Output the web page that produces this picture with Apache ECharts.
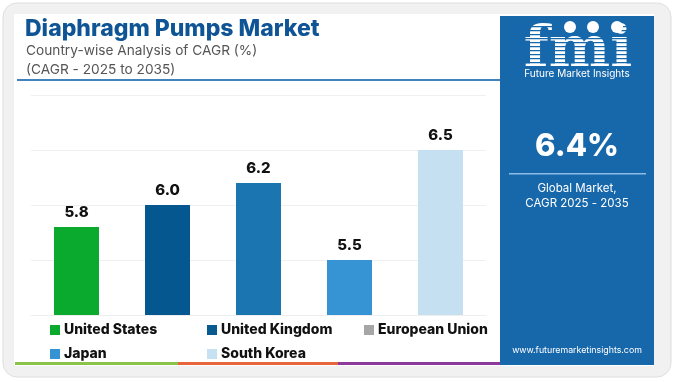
<!DOCTYPE html>
<html>
<head>
<meta charset="utf-8">
<script src="https://cdn.jsdelivr.net/npm/echarts@6/dist/echarts.min.js"></script>
<style>
html,body{margin:0;padding:0;background:#fff;}
#c{width:676px;height:382px;}
</style>
</head>
<body>
<div id="c"></div>
<script>
const categories = ['United States', 'United Kingdom', 'European Union', 'Japan', 'South Korea'];
const values = [5.8, 6.0, 6.2, 5.5, 6.5];
const barColors = ['#0aaa2e', '#04588f', '#1b75b0', '#3693d4', '#c4e0f1'];
const legendColors = ['#0aaa2e', '#085a8f', '#a6a6a6', '#3592d3', '#c5e1f2'];
const yMin = 5, yMax = 7, yStep = 0.5;
const title = 'Diaphragm Pumps Market';
const subtitle1 = 'Country-wise Analysis of CAGR (%)';
const subtitle2 = '(CAGR - 2025 to 2035)';
const globalCagr = '6.4%';
const globalLabel = 'Global Market,\nCAGR 2025 - 2035';
const website = 'www.futuremarketinsights.com';

const FONT = 'Inter, "Open Sans", sans-serif';
const chart = echarts.init(document.getElementById('c'), null, {renderer: 'canvas'});

const series = categories.map((name, i) => ({
  name: name,
  type: 'bar',
  barWidth: 45,
  barGap: '-100%',
  itemStyle: {color: barColors[i]},
  label: {
    show: true, position: 'top', distance: 7,
    fontFamily: FONT, fontWeight: 800, fontSize: 15, color: '#111',
    formatter: p => p.value.toFixed(1)
  },
  data: values.map((v, j) => j === i ? v : '-')
}));

// legend layout: 3 columns, 2 rows
const legendCols = [45, 202, 359];
const legendRows = [318, 342];
const legends = categories.map((name, i) => ({
  left: legendCols[i % 3], top: legendRows[Math.floor(i / 3)],
  itemWidth: 10, itemHeight: 10, icon: 'rect',
  textStyle: {fontFamily: FONT, fontWeight: 800, fontSize: 14, color: '#111', padding: [0, 0, 0, -1]},
  data: [{name: name, itemStyle: {color: legendColors[i]}}]
}));

// stripes for logo
const stripes = [];
for (let y = 26; y <= 68; y += 4) {
  stripes.push({type: 'rect', z: 5, shape: {x: 516, y: y, width: 124, height: 1.3}, style: {fill: '#1767ab'}});
}

const option = {
  animation: false,
  grid: {left: 31, right: 190, top: 95, bottom: 67, containLabel: false},
  xAxis: {
    type: 'category', data: categories,
    axisLine: {show: true, lineStyle: {color: '#eeeeee'}},
    axisTick: {show: false}, axisLabel: {show: false}
  },
  yAxis: {
    type: 'value', min: yMin, max: yMax, interval: yStep,
    axisLine: {show: false}, axisTick: {show: false}, axisLabel: {show: false},
    splitLine: {lineStyle: {color: '#f0f0f0', width: 1}}
  },
  legend: legends,
  series: series,
  graphic: [
    {type: 'rect', z: -20, shape: {x: 3, y: 3, width: 668, height: 374, r: 14}, style: {fill: '#f1f1f1', stroke: '#dedede', lineWidth: 1}},
    {type: 'rect', z: -19, shape: {x: 14, y: 14, width: 640, height: 352}, style: {fill: '#ffffff'}},
    {type: 'rect', z: -18, shape: {x: 500, y: 16, width: 154, height: 349}, style: {fill: '#1767ab'}},
    {type: 'text', z: 3, x: 25, y: 29, style: {text: title, fontFamily: FONT, fontWeight: 800, fontSize: 23, fill: '#0f5596', textVerticalAlign: 'middle'}},
    {type: 'text', z: 3, x: 26, y: 51, style: {text: subtitle1, fontFamily: FONT, fontSize: 13.7, fill: '#555555', textVerticalAlign: 'middle'}},
    {type: 'text', z: 3, x: 26, y: 70, style: {text: subtitle2, fontFamily: FONT, fontSize: 13.7, fill: '#555555', textVerticalAlign: 'middle'}},
    {type: 'rect', z: 3, shape: {x: 17, y: 79, width: 483, height: 2}, style: {fill: '#3f84bf'}},
    {type: 'rect', z: 3, shape: {x: 15, y: 362, width: 163, height: 3}, style: {fill: '#8bc34a'}},
    {type: 'rect', z: 3, shape: {x: 178, y: 362, width: 160, height: 3}, style: {fill: '#e8643c'}},
    {type: 'rect', z: 3, shape: {x: 338, y: 362, width: 162, height: 3}, style: {fill: '#8e3a9c'}},
    // logo
    {type: 'text', z: 4, x: 578, y: 81, style: {text: 'fmi', fontFamily: '"DejaVu Serif", serif', fontWeight: 'bold', fontSize: 58, fill: '#ffffff', textAlign: 'center', textVerticalAlign: 'bottom'}},
    ...stripes,
    {type: 'circle', z: 6, shape: {cx: 570, cy: 27, r: 6}, style: {fill: '#ffffff'}},
    {type: 'circle', z: 6, shape: {cx: 593, cy: 27, r: 6}, style: {fill: '#ffffff'}},
    {type: 'circle', z: 6, shape: {cx: 617, cy: 27, r: 6}, style: {fill: '#ffffff'}},
    {type: 'text', z: 6, x: 577, y: 74, style: {text: 'Future Market Insights', fontFamily: FONT, fontSize: 10, fill: '#ffffff', textAlign: 'center', textVerticalAlign: 'middle'}},
    {type: 'text', z: 4, x: 577, y: 147, style: {text: globalCagr, fontFamily: FONT, fontWeight: 800, fontSize: 31, fill: '#ffffff', textAlign: 'center', textVerticalAlign: 'middle'}},
    {type: 'rect', z: 4, shape: {x: 509, y: 173, width: 137, height: 1.5}, style: {fill: '#8cbde6'}},
    {type: 'text', z: 4, x: 577, y: 196, style: {text: globalLabel, fontFamily: FONT, fontSize: 11.5, lineHeight: 14.5, fill: '#ffffff', textAlign: 'center', textVerticalAlign: 'middle'}},
    {type: 'text', z: 4, x: 577, y: 350, style: {text: website, fontFamily: FONT, fontSize: 8.8, fill: '#ffffff', textAlign: 'center', textVerticalAlign: 'middle'}}
  ]
};
chart.setOption(option);
</script>
</body>
</html>
